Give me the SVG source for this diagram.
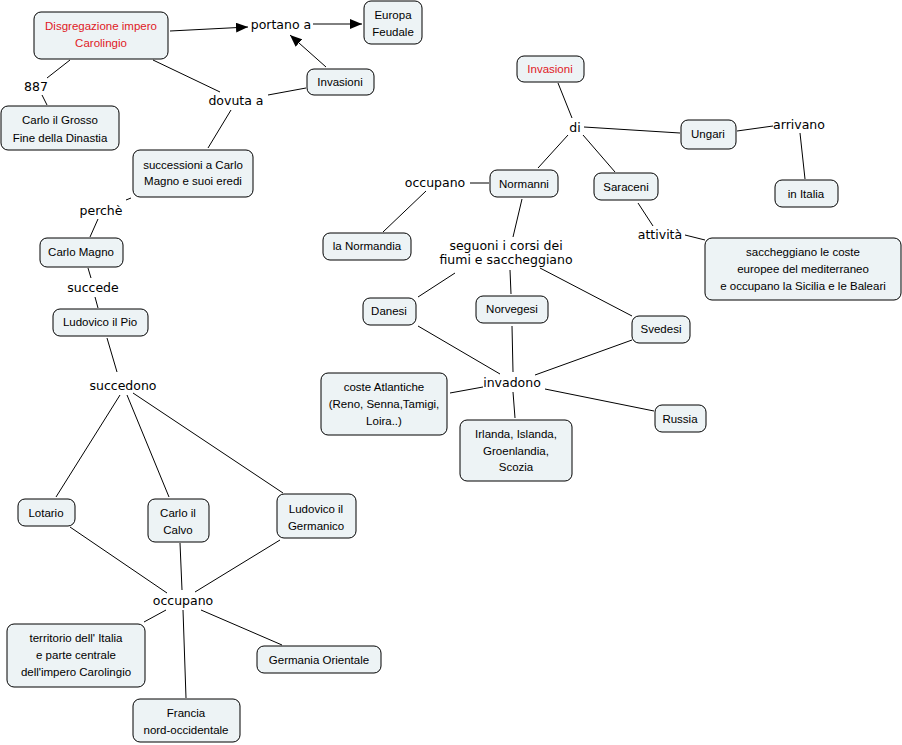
<svg xmlns="http://www.w3.org/2000/svg" width="902" height="745" viewBox="0 0 902 745">
<defs>
<style>
.n rect{fill:#edf3f5;stroke:#000;stroke-width:1}
.n text{font-family:"Liberation Sans","DejaVu Sans",sans-serif;font-size:11.5px;fill:#000;text-anchor:middle}
.n text.r{fill:#e0191f}
.l{font-family:"DejaVu Sans",sans-serif;font-size:12.5px;fill:#000;text-anchor:middle}
.c line{stroke:#000;stroke-width:1}
</style>
<marker id="ah" markerWidth="12" markerHeight="10" refX="12" refY="5" orient="auto" markerUnits="userSpaceOnUse">
<path d="M0,0 L12,5 L0,10 Z" fill="#000"/>
</marker>
</defs>
<rect width="902" height="745" fill="#fff"/>
<g id="connectors" class="c">
<line x1="170" y1="31" x2="248" y2="27" marker-end="url(#ah)"/>
<line x1="313" y1="24" x2="362" y2="24" marker-end="url(#ah)"/>
<line x1="326" y1="67" x2="290" y2="35" marker-end="url(#ah)"/>
<line x1="153" y1="60" x2="220" y2="92"/>
<line x1="306" y1="88" x2="268" y2="95"/>
<line x1="231" y1="110" x2="208" y2="148"/>
<line x1="70" y1="60" x2="47" y2="78"/>
<line x1="42" y1="95" x2="47" y2="105"/>
<line x1="131" y1="198" x2="126" y2="200"/>
<line x1="98" y1="219" x2="90" y2="237"/>
<line x1="88" y1="268" x2="91" y2="278"/>
<line x1="95" y1="297" x2="98" y2="308"/>
<line x1="107" y1="338" x2="117" y2="372"/>
<line x1="120" y1="395" x2="56" y2="497"/>
<line x1="127" y1="395" x2="169" y2="497"/>
<line x1="133" y1="393" x2="283" y2="493"/>
<line x1="70" y1="527" x2="167" y2="593"/>
<line x1="180" y1="543" x2="182" y2="590"/>
<line x1="280" y1="540" x2="195" y2="592"/>
<line x1="166" y1="610" x2="144" y2="622"/>
<line x1="201" y1="610" x2="282" y2="645"/>
<line x1="183" y1="610" x2="186" y2="698"/>
<line x1="558" y1="83" x2="572" y2="118"/>
<line x1="584" y1="127" x2="680" y2="133"/>
<line x1="568" y1="135" x2="538" y2="168"/>
<line x1="583" y1="135" x2="615" y2="172"/>
<line x1="737" y1="131" x2="773" y2="126"/>
<line x1="800" y1="133" x2="805" y2="179"/>
<line x1="489" y1="183" x2="470" y2="183"/>
<line x1="426" y1="191" x2="383" y2="232"/>
<line x1="522" y1="199" x2="513" y2="237"/>
<line x1="638" y1="203" x2="653" y2="226"/>
<line x1="685" y1="235" x2="705" y2="240"/>
<line x1="455" y1="273" x2="418" y2="297"/>
<line x1="510" y1="270" x2="511" y2="294"/>
<line x1="540" y1="268" x2="632" y2="316"/>
<line x1="418" y1="326" x2="500" y2="374"/>
<line x1="512" y1="326" x2="513" y2="372"/>
<line x1="632" y1="340" x2="535" y2="375"/>
<line x1="483" y1="387" x2="450" y2="393"/>
<line x1="513" y1="392" x2="515" y2="418"/>
<line x1="545" y1="389" x2="654" y2="411"/>
</g>
<g id="lbl-portano"><text class="l" x="281" y="29">portano a</text></g>
<g id="lbl-887"><text class="l" x="36" y="91">887</text></g>
<g id="lbl-dovuta"><text class="l" x="236" y="105">dovuta a</text></g>
<g id="lbl-perche"><text class="l" x="101" y="215">perchè</text></g>
<g id="lbl-succede"><text class="l" x="93" y="292">succede</text></g>
<g id="lbl-succedono"><text class="l" x="123" y="390">succedono</text></g>
<g id="lbl-occupano1"><text class="l" x="183" y="605">occupano</text></g>
<g id="lbl-di"><text class="l" x="575" y="132">di</text></g>
<g id="lbl-arrivano"><text class="l" x="799" y="129">arrivano</text></g>
<g id="lbl-occupano2"><text class="l" x="435" y="187">occupano</text></g>
<g id="lbl-attivita"><text class="l" x="660" y="239">attività</text></g>
<g id="lbl-seguoni"><text class="l" x="506" y="250">seguoni i corsi dei</text><text class="l" x="506" y="264">fiumi e saccheggiano</text></g>
<g id="lbl-invadono"><text class="l" x="512" y="387">invadono</text></g>

<g id="n-disgregazione" class="n"><rect x="34" y="12" width="134" height="47" rx="7"/><text class="r" x="101" y="30">Disgregazione impero</text><text class="r" x="101" y="47">Carolingio</text></g>
<g id="n-europa" class="n"><rect x="364" y="1" width="58" height="43" rx="7"/><text x="393" y="19">Europa</text><text x="393" y="36">Feudale</text></g>
<g id="n-invasioni1" class="n"><rect x="307" y="69" width="67" height="26" rx="7"/><text x="340" y="86">Invasioni</text></g>
<g id="n-grosso" class="n"><rect x="1" y="106" width="118" height="44" rx="7"/><text x="60" y="124">Carlo il Grosso</text><text x="60" y="142">Fine della Dinastia</text></g>
<g id="n-successioni" class="n"><rect x="133" y="150" width="120" height="47" rx="7"/><text x="193" y="169">successioni a Carlo</text><text x="193" y="185">Magno e suoi eredi</text></g>
<g id="n-carlomagno" class="n"><rect x="40" y="238" width="83" height="29" rx="7"/><text x="81" y="256">Carlo Magno</text></g>
<g id="n-ludovicopio" class="n"><rect x="53" y="309" width="95" height="27" rx="7"/><text x="100" y="326">Ludovico il Pio</text></g>
<g id="n-lotario" class="n"><rect x="18" y="499" width="57" height="27" rx="7"/><text x="46" y="517">Lotario</text></g>
<g id="n-calvo" class="n"><rect x="148" y="499" width="61" height="43" rx="7"/><text x="178" y="517">Carlo il</text><text x="178" y="534">Calvo</text></g>
<g id="n-germanico" class="n"><rect x="277" y="494" width="79" height="44" rx="7"/><text x="316" y="513">Ludovico il</text><text x="316" y="530">Germanico</text></g>
<g id="n-territorio" class="n"><rect x="7" y="624" width="138" height="63" rx="7"/><text x="76" y="642">territorio dell' Italia</text><text x="76" y="659">e parte centrale</text><text x="76" y="676">dell'impero Carolingio</text></g>
<g id="n-germania" class="n"><rect x="257" y="646" width="124" height="27" rx="7"/><text x="319" y="664">Germania Orientale</text></g>
<g id="n-francia" class="n"><rect x="133" y="699" width="107" height="43" rx="7"/><text x="186" y="717">Francia</text><text x="186" y="734">nord-occidentale</text></g>

<g id="n-invasioni2" class="n"><rect x="517" y="56" width="67" height="26" rx="7"/><text class="r" x="550" y="73">Invasioni</text></g>
<g id="n-ungari" class="n"><rect x="681" y="120" width="55" height="29" rx="7"/><text x="708" y="138">Ungari</text></g>
<g id="n-initalia" class="n"><rect x="775" y="180" width="63" height="27" rx="7"/><text x="806" y="198">in Italia</text></g>
<g id="n-normanni" class="n"><rect x="490" y="170" width="68" height="27" rx="7"/><text x="524" y="188">Normanni</text></g>
<g id="n-saraceni" class="n"><rect x="594" y="173" width="64" height="27" rx="7"/><text x="626" y="191">Saraceni</text></g>
<g id="n-normandia" class="n"><rect x="323" y="233" width="88" height="27" rx="7"/><text x="367" y="250">la Normandia</text></g>
<g id="n-saccheggiano" class="n"><rect x="705" y="238" width="196" height="62" rx="7"/><text x="803" y="256">saccheggiano le coste</text><text x="803" y="273">europee del mediterraneo</text><text x="803" y="290">e occupano la Sicilia e le Baleari</text></g>
<g id="n-danesi" class="n"><rect x="363" y="298" width="53" height="27" rx="7"/><text x="389" y="315">Danesi</text></g>
<g id="n-norvegesi" class="n"><rect x="476" y="296" width="72" height="27" rx="7"/><text x="512" y="313">Norvegesi</text></g>
<g id="n-svedesi" class="n"><rect x="632" y="316" width="58" height="27" rx="7"/><text x="661" y="333">Svedesi</text></g>
<g id="n-coste" class="n"><rect x="321" y="373" width="126" height="62" rx="7"/><text x="384" y="391">coste Atlantiche</text><text x="384" y="408">(Reno, Senna,Tamigi,</text><text x="384" y="425">Loira..)</text></g>
<g id="n-irlanda" class="n"><rect x="460" y="420" width="112" height="61" rx="7"/><text x="516" y="438">Irlanda, Islanda,</text><text x="516" y="455">Groenlandia,</text><text x="516" y="471">Scozia</text></g>
<g id="n-russia" class="n"><rect x="655" y="405" width="51" height="27" rx="7"/><text x="680" y="423">Russia</text></g>
</svg>
